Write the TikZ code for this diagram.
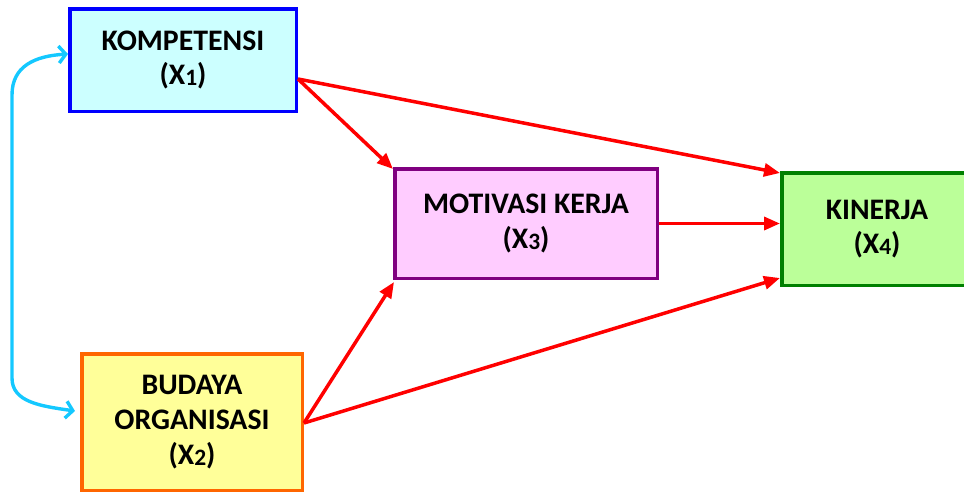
\documentclass[tikz,border=0pt]{standalone}
\usepackage{fontspec}
\setmainfont{Carlito}
\usetikzlibrary{arrows.meta,calc}

\definecolor{kfill}{HTML}{CCFFFF}
\definecolor{kline}{HTML}{0000FF}
\definecolor{bfill}{HTML}{FFFF99}
\definecolor{bline}{HTML}{FF6600}
\definecolor{mfill}{HTML}{FFCCFF}
\definecolor{mline}{HTML}{800080}
\definecolor{xfill}{HTML}{BBFF99}
\definecolor{xline}{HTML}{008000}
\definecolor{pathred}{HTML}{FF0000}
\definecolor{linkcyan}{HTML}{14C8FF}

% smaller index digit after the variable letter
\newcommand\subdigit[1]{\raisebox{-1pt}{\fontsize{23.5}{23.5}\selectfont #1}}

\begin{document}
\begin{tikzpicture}[x=1pt,y=-1pt,
  box/.style={draw, line width=3.5pt, align=center, inner sep=0pt,
    font=\fontsize{29.8}{34.8}\selectfont\bfseries},
  effect/.style={draw=pathred, line width=3.5pt,
    -{Triangle[length=16pt,width=13pt]}},
  corr/.style={draw=linkcyan, line width=3.4pt,
    {Straight Barb[length=7pt,width=17pt]}-{Straight Barb[length=7pt,width=17pt]}}]
\useasboundingbox (0,0) rectangle (964,493);
\clip (0,0) rectangle (964,493);

% variables
\node[box, draw=kline, fill=kfill, minimum width=226.5pt, minimum height=102.5pt]
  (k) at (183,60) {KOMPETENSI\\(X\subdigit{1})};
\node[box, draw=bline, fill=bfill, minimum width=220.5pt, minimum height=136.5pt]
  (b) at (192,422) {BUDAYA\\ORGANISASI\\(X\subdigit{2})};
\node[box, draw=mline, fill=mfill, minimum width=262.5pt, minimum height=109.5pt]
  (m) at (526,223.5) {MOTIVASI KERJA\\(X\subdigit{3})};
\node[box, draw=xline, fill=xfill, minimum width=190.5pt, minimum height=112.5pt]
  (p) at (877,229) {KINERJA\\(X\subdigit{4})};

% direct and mediated effects
\coordinate (kout) at ([yshift=-19pt]k.east);
\coordinate (bout) at ([yshift=-1pt]b.east);
\draw[effect] (kout) -- ([yshift=-2pt]p.north west);
\draw[effect] (kout) -- ([yshift=-2pt]m.north west);
\draw[effect] (m.east) -- (m.east -| p.west);
\draw[effect] (bout) -- ([xshift=1pt,yshift=-2pt]m.south west);
\draw[effect] (bout) -- ([yshift=9pt]p.south west);

% correlation between the exogenous variables
\coordinate (ktip) at ([yshift=6pt]k.west);
\coordinate (btip) at ([xshift=-5pt,yshift=11pt]b.west);
\coordinate (bendA) at (12,95);
\coordinate (bendB) at (12,378);
\draw[corr] (ktip) .. controls (35,56) and (12,66) .. (bendA)
  -- (bendB) .. controls (12,402) and (40,406) .. (btip);
\end{tikzpicture}
\end{document}
